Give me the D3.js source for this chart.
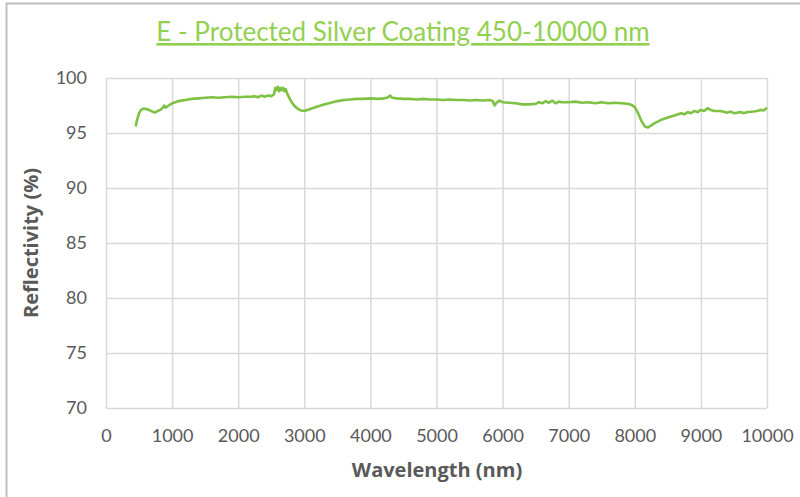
<!DOCTYPE html>
<html>
<head>
<meta charset="utf-8">
<script src="https://cdn.jsdelivr.net/npm/d3@7"></script>
<style>
  body { margin: 0; background: #fff; }
  text { font-family: Lato, "Open Sans", sans-serif; }
</style>
</head>
<body>
<div id="chart"></div>
<script>
// wavelength (nm) and reflectivity (%)
var wavelength = [450,470,500,530,560,600,650,700,740,780,820,860,880,900,950,
  1000,1050,1100,1200,1300,1400,1500,1600,1700,1800,1900,2000,2100,2200,2250,2300,2350,2400,2450,2500,
  2540,2560,2580,2600,2620,2640,2660,2680,2700,2720,2740,2780,2820,2860,2900,2950,
  3000,3050,3100,3200,3300,3400,3500,3600,3700,3800,3900,
  4000,4100,4200,4250,4300,4330,4400,4500,4600,4700,4800,4900,
  5000,5100,5200,5300,5400,5500,5600,5700,5800,5850,5880,5900,5950,
  6000,6100,6200,6300,6400,6500,6550,6600,6650,6700,6750,6800,6850,6900,
  7000,7100,7200,7300,7400,7500,7600,7700,7800,7900,7950,
  8000,8050,8100,8150,8200,8250,8300,8400,8500,8600,8700,8750,8800,8850,8900,8950,
  9000,9050,9100,9150,9200,9300,9400,9450,9500,9600,9650,9700,9800,9850,9900,9950,10000];
var reflectivity = [95.6,96.2,96.8,97.1,97.2,97.2,97.1,96.95,96.85,97.0,97.1,97.3,97.5,97.3,97.5,
  97.7,97.8,97.9,98.0,98.1,98.15,98.2,98.25,98.2,98.25,98.3,98.25,98.3,98.3,98.35,98.25,98.4,98.3,98.4,98.35,
  98.5,99.1,98.9,99.2,98.8,99.1,98.9,99.1,98.8,99.0,98.6,98.1,97.7,97.4,97.2,97.05,
  97.0,97.1,97.2,97.4,97.6,97.75,97.9,98.0,98.05,98.1,98.1,
  98.15,98.1,98.15,98.2,98.4,98.2,98.15,98.1,98.1,98.05,98.1,98.05,
  98.05,98.0,98.05,98.0,98.0,97.95,98.0,97.95,98.0,97.9,97.5,97.7,97.95,
  97.8,97.75,97.7,97.6,97.6,97.65,97.8,97.7,97.9,97.75,97.95,97.7,97.85,97.8,
  97.8,97.85,97.75,97.8,97.7,97.8,97.7,97.75,97.7,97.65,97.55,
  97.35,96.8,96.1,95.6,95.5,95.7,95.9,96.2,96.4,96.6,96.8,96.7,96.9,96.8,97.0,96.9,
  97.1,97.0,97.25,97.1,97.0,97.0,96.85,96.95,96.8,96.9,96.8,96.9,96.95,97.0,97.1,97.05,97.3];

var xTicks = [0,1000,2000,3000,4000,5000,6000,7000,8000,9000,10000];
var yTicks = [70,75,80,85,90,95,100];

var data = wavelength.map(function(w, i) { return {wl: w, r: reflectivity[i]}; });

var width = 800, height = 497;
var margin = {top: 78, right: 33, bottom: 89, left: 106};

var svg = d3.select("#chart")
  .append("svg")
    .attr("width", width)
    .attr("height", height);

// outer frame (only top and left edges are visible in the picture)
svg.append("path")
  .attr("d", "M6.5," + height + "V3.5H" + width)
  .attr("fill", "none")
  .attr("stroke", "#bfbfbf")
  .attr("stroke-width", 2);

var x = d3.scaleLinear()
  .domain([0, 10000])
  .range([margin.left, width - margin.right]);
var y = d3.scaleLinear()
  .domain([70, 100])
  .range([height - margin.bottom, margin.top]);

// gridlines
svg.append("g")
  .attr("transform", "translate(0," + (height - margin.bottom) + ")")
  .call(d3.axisBottom(x).tickValues(xTicks).tickSize(-(height - margin.top - margin.bottom)).tickFormat(""))
  .call(function(g) { g.select(".domain").remove(); })
  .selectAll("line")
    .attr("stroke", "#d9d9d9")
    .attr("stroke-width", 1.5);

svg.append("g")
  .attr("transform", "translate(" + margin.left + ",0)")
  .call(d3.axisLeft(y).tickValues(yTicks).tickSize(-(width - margin.left - margin.right)).tickFormat(""))
  .call(function(g) { g.select(".domain").remove(); })
  .selectAll("line")
    .attr("stroke", "#d9d9d9")
    .attr("stroke-width", 1.5);

// tick labels
var xAxis = svg.append("g")
  .attr("transform", "translate(0," + (height - margin.bottom) + ")")
  .call(d3.axisBottom(x).tickValues(xTicks).tickSize(0).tickPadding(21).tickFormat(d3.format("d")));
xAxis.select(".domain").remove();
xAxis.selectAll("text")
  .attr("fill", "#595959")
  .style("font-size", "18px");

var yAxis = svg.append("g")
  .attr("transform", "translate(" + margin.left + ",0)")
  .call(d3.axisLeft(y).tickValues(yTicks).tickSize(0).tickPadding(19));
yAxis.select(".domain").remove();
yAxis.selectAll("text")
  .attr("fill", "#595959")
  .style("font-size", "18px");

// the curve
svg.append("path")
  .datum(data)
  .attr("fill", "none")
  .attr("stroke", "#7dc243")
  .attr("stroke-width", 2.6)
  .attr("stroke-linejoin", "round")
  .attr("d", d3.line()
    .x(function(d) { return x(d.wl); })
    .y(function(d) { return y(d.r); }));

// titles
svg.append("text")
  .attr("x", 403)
  .attr("y", 41)
  .attr("text-anchor", "middle")
  .attr("fill", "#92d050")
  .style("font-size", "26px")
  .style("text-decoration", "underline")
  .text("E - Protected Silver Coating 450-10000 nm");

svg.append("text")
  .attr("x", 437)
  .attr("y", 477)
  .attr("text-anchor", "middle")
  .attr("fill", "#595959")
  .style("font-family", "'Open Sans', sans-serif")
  .style("font-size", "20px")
  .style("font-weight", "bold")
  .text("Wavelength (nm)");

svg.append("text")
  .attr("transform", "translate(38,243) rotate(-90)")
  .attr("text-anchor", "middle")
  .attr("fill", "#595959")
  .style("font-family", "'Open Sans', sans-serif")
  .style("font-size", "20px")
  .style("font-weight", "bold")
  .text("Reflectivity (%)");
</script>
</body>
</html>
